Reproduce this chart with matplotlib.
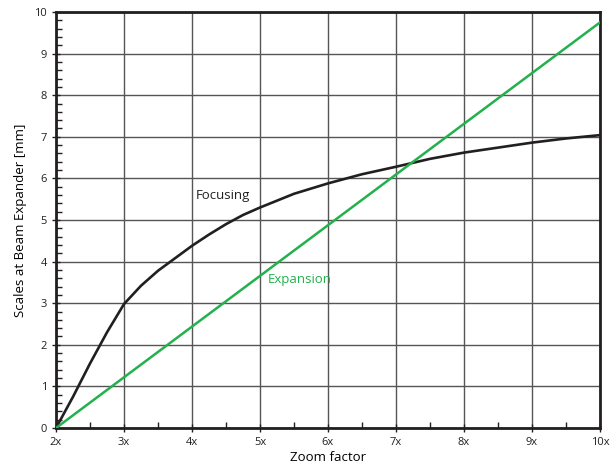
import matplotlib.pyplot as plt
from matplotlib.ticker import MultipleLocator

plt.rcParams['font.family'] = ['Open Sans', 'DejaVu Sans']

# Daten
zoom = [2, 10]
expansion = [0, 9.75]

zoom_f = [2, 2.25, 2.5, 2.75, 3, 3.25, 3.5, 3.75, 4, 4.25, 4.5, 4.75, 5, 5.5, 6, 6.5, 7, 7.5, 8, 8.5, 9, 9.5, 10]
focusing = [0, 0.75, 1.55, 2.3, 2.98, 3.42, 3.78, 4.08, 4.38, 4.65, 4.9, 5.12, 5.3, 5.63, 5.88, 6.1, 6.28, 6.47, 6.62, 6.74, 6.86, 6.96, 7.04]

xticks = [2, 3, 4, 5, 6, 7, 8, 9, 10]
xlabels = ['2x', '3x', '4x', '5x', '6x', '7x', '8x', '9x', '10x']

fig = plt.figure(figsize=(6.16, 4.68), dpi=100)
ax = fig.add_axes([56/616, 40/468, 544/616, 416/468])

ax.plot(zoom_f, focusing, color='#231f20', lw=1.9, zorder=3)
ax.plot(zoom, expansion, color='#22b14c', lw=1.8, zorder=3)

ax.text(4.05, 5.6, 'Focusing', color='#231f20', fontsize=9.5, va='center')
ax.text(5.12, 3.58, 'Expansion', color='#22b14c', fontsize=9.5, va='center')

ax.set_xlim(2, 10)
ax.set_ylim(0, 10)
ax.set_xticks(xticks)
ax.set_xticklabels(xlabels)
ax.set_yticks(range(11))
ax.xaxis.set_minor_locator(MultipleLocator(0.5))
ax.yaxis.set_minor_locator(MultipleLocator(0.2))
ax.tick_params(which='major', direction='inout', length=6, width=1, labelsize=8, colors='#231f20')
ax.tick_params(which='minor', direction='in', length=4, width=1, color='#231f20')
ax.grid(True, which='major', color='#555555', lw=1)
for s in ax.spines.values():
    s.set_linewidth(2)
    s.set_color('#231f20')

ax.set_xlabel('Zoom factor', fontsize=9.5, labelpad=2)
ax.set_ylabel('Scales at Beam Expander [mm]', fontsize=9.5, labelpad=5)

fig.savefig('out.png', dpi=100)
